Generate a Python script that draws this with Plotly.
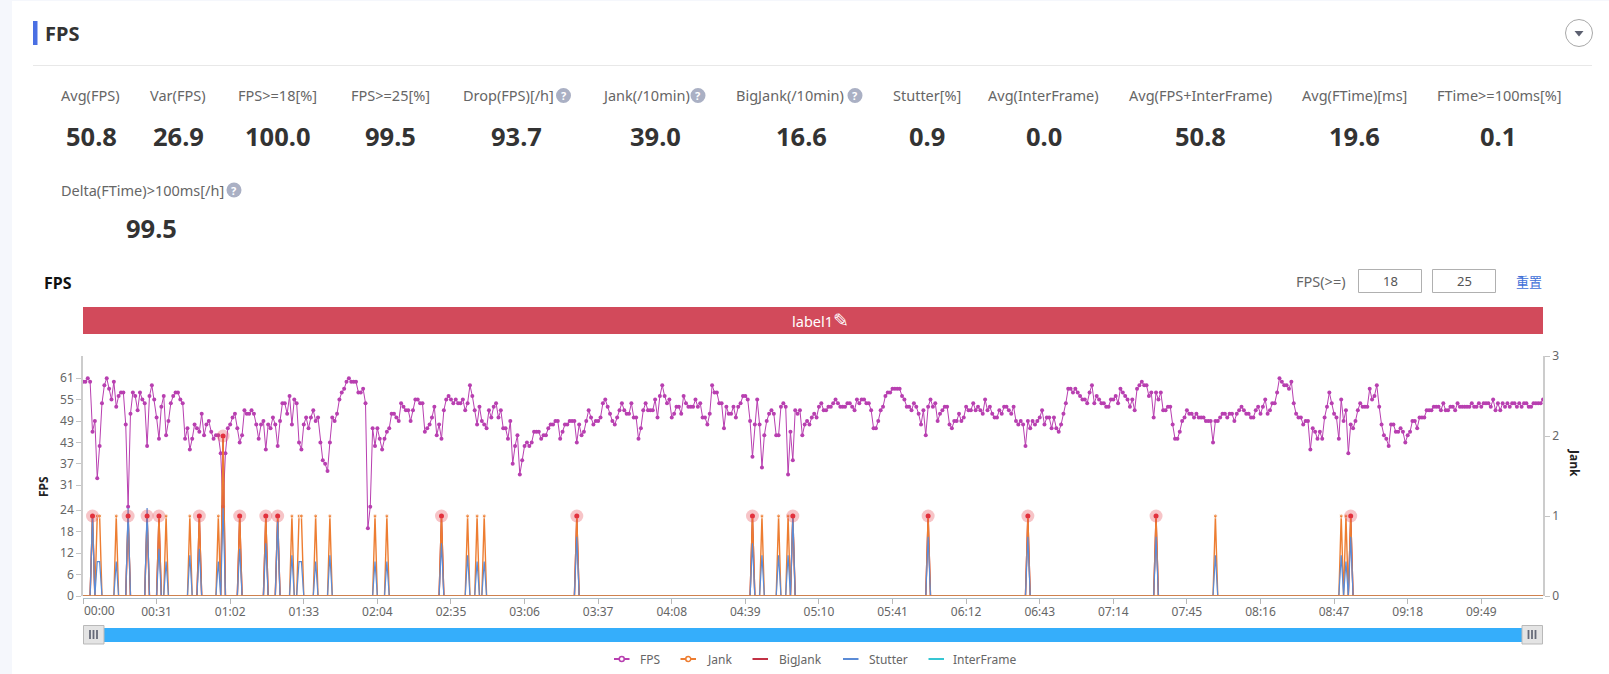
import plotly.graph_objects as go

W, H = 1609, 674
FONT = "Noto Sans"

fps_1 = [60,60,61,60,46,49,33,42,54,59,61,58,55,60,53,56,57,57,48,25,51,57,56,52,57,55,54,42,56,59,55,50,44,53,56,45,49,54,56,57,57,55,54,44,47,41,44,48,47,46,51,45,48,49,46,44,45,45,40,25,40,
         47,48,50,51,47,43,45,52,51,51,52,51,48,44,48,49,41,48,47,50,48,42,49,54,54,51,56,48,55,54,43,41,48,50,47,50,52,49,50,43,38,37,35,43,50,49,51,55,57,58,60,61,60,60,60,57,57,58,54,19,25,47,42,47,44,41,44,46,47,51,51,50,49]
fps_2 = [54,53,52,52,49,52,55,55,54,54,46,47,48,50,53,45,48,44,52,55,56,55,54,55,54,54,55,52,54,59,56,52,48,53,49,48,47,52,50,53,54,50,52,47,47,44,49,37,42,45,34,38,42,43,42,43,46,46,46,44,45,45,47,48,48,49,49,44,46,48,48,49,49,49,43,48,45,46,49,52,50,48,49,49,50,54,55,53,51,49,48,50,52,54,52,51,51,54,50,50,44,47,52,54,52,52,52,55,50,56,59,56,54,55,50,51,53,53,51,56,54,53,53,53,55,53,54,50,50,48,51,59,57,57,54,54,47,53,51,51,53,50,53,54,56,56,55,49,39,48,55,48,36,45,49,51,52,51,45,45,53,54,53,34,46,38,52,51]
fps_3 = [52,45,48,49,48,50,51,50,53,54,52,52,53,53,54,55,54,53,53,53,54,54,53,52,55,54,55,55,54,54,52,47,47,49,52,53,56,57,57,58,58,58,58,56,55,53,53,52,54,53,51,48,52,45,53,55,53,54,49,51,52,53,53,48,47,49,49,51,49,50,53,52,52,54,52,53,52,51,55,52,53,51,50,50,52,51,53,53,52,51,53,49,48,49,48,42,49,47,49,48,49,50,52,48,50,50,47,50,47,46,48,51,54,58,58,57,58,57,56,55,55,54,57,59,54,56,55,54,54,53,53,55,55,56,54,58,57,56,55,53,55,52,58,59,60,59,59,56,57,50,57,55,57,52,52,53,53,48,44,44,46,49,50,52,51,51,50,51]
fps_4 = [50,50,50,49,49,49,43,49,49,50,51,51,50,51,51,49,51,52,53,52,51,51,50,50,52,53,51,53,55,51,52,54,54,57,61,60,59,59,58,60,54,51,50,50,48,49,49,41,47,46,44,46,44,50,53,57,54,51,50,44,55,49,52,40,48,47,49,52,54,53,53,53,58,55,56,59,53,48,45,44,42,48,48,46,46,47,46,43,45,46,49,49,47,50,50,50,52,52,52,53,53,53,52,54,52,52,53,53,52,54,53,53,53,53,53,54,53,53,54,53,54,54,54,53,55,52,54,52,54,53,54,53,54,54,53,54,53,54,54,53,53,54,54,54,54,55]
fps_values = fps_1 + fps_2 + fps_3 + fps_4
seconds = list(range(len(fps_values)))

jank_seconds = [4,6,7,14,19,27,32,35,45,49,57,59,66,77,82,88,91,92,98,104,123,128,151,162,166,169,208,282,286,293,297,299,356,398,452,477,530,532,534]
stutter_peaks = [1.0,.43,.43,.43,1.1,1.1,.59,.43,.51,.59,.43,1.1,.59,.66,.93,.51,.43,.43,.43,.51,.43,.43,.66,.51,.43,.43,.74,.66,.51,.51,.51,1.0,.74,.74,.74,.51,.51,.43,.74]
double_jank_seconds = [59]
big_jank_seconds = [4,19,27,32,49,59,66,77,82,151,208,282,299,356,398,452,534]

jank_values = [0] * len(seconds)
stutter_values = [0] * len(seconds)
big_jank_values = [0] * len(seconds)
interframe_values = [0] * len(seconds)
for s, p in zip(jank_seconds, stutter_peaks):
    jank_values[s] = 2 if s in double_jank_seconds else 1
    stutter_values[s] = p
for s in big_jank_seconds:
    big_jank_values[s] = jank_values[s]

tick_seconds = list(range(0, 590, 31))
tick_labels = [f"{s//60:02d}:{s%60:02d}" for s in tick_seconds]
fps_ticks = [0, 6, 12, 18, 24, 31, 37, 43, 49, 55, 61]
jank_ticks = [0, 1, 2, 3]

metric_names = ["Avg(FPS)", "Var(FPS)", "FPS>=18[%]", "FPS>=25[%]", "Drop(FPS)[/h]", "Jank(/10min)", "BigJank(/10min)", "Stutter[%]", "Avg(InterFrame)", "Avg(FPS+InterFrame)", "Avg(FTime)[ms]", "FTime>=100ms[%]"]
metric_values = ["50.8", "26.9", "100.0", "99.5", "93.7", "39.0", "16.6", "0.9", "0.0", "50.8", "19.6", "0.1"]
metric_label_x = [90, 178, 277.5, 390, 508, 646, 790, 926.5, 1043.5, 1200, 1354, 1499]
metric_value_x = [91, 178, 277.5, 390, 516.5, 655.5, 801, 926.5, 1043.5, 1200, 1354, 1498]

C_FPS, C_JANK, C_BIG, C_STUT, C_INTER = "#b83fb0", "#ed7d31", "#c23145", "#5b8bd6", "#36c6d3"

def px(x): return x / W
def py(y): return 1 - y / H

fig = go.Figure()
fig.add_trace(go.Scatter(x=seconds, y=fps_values, yaxis="y", name="FPS", mode="lines+markers", cliponaxis=False,
                         line=dict(color=C_FPS, width=1), marker=dict(color=C_FPS, size=4)))
fig.add_trace(go.Scatter(x=seconds, y=big_jank_values, yaxis="y2", name="BigJank", mode="lines", cliponaxis=False,
                         line=dict(color=C_BIG, width=1.4)))
fig.add_trace(go.Scatter(x=seconds, y=jank_values, yaxis="y2", name="Jank", mode="lines+markers", cliponaxis=False,
                         line=dict(color=C_JANK, width=1.4),
                         marker=dict(color=C_JANK, size=[4 if v else 0 for v in jank_values])))
fig.add_trace(go.Scatter(x=seconds, y=interframe_values, yaxis="y2", name="InterFrame", mode="lines", cliponaxis=False,
                         line=dict(color=C_INTER, width=1)))
fig.add_trace(go.Scatter(x=seconds, y=stutter_values, yaxis="y2", name="Stutter", mode="lines", cliponaxis=False,
                         line=dict(color=C_STUT, width=1.2)))
fig.add_trace(go.Scatter(x=seconds, y=[0] * len(seconds), yaxis="y2", mode="lines", cliponaxis=False, showlegend=False,
                         line=dict(color=C_JANK, width=1.7)))
fig.add_trace(go.Scatter(x=big_jank_seconds, y=[jank_values[s] for s in big_jank_seconds], yaxis="y2", mode="markers",
                         showlegend=False, cliponaxis=False, marker=dict(color="rgba(228,60,70,0.3)", size=13)))
fig.add_trace(go.Scatter(x=big_jank_seconds, y=[jank_values[s] for s in big_jank_seconds], yaxis="y2", mode="markers",
                         showlegend=False, cliponaxis=False, marker=dict(color="#e2313d", size=5)))

shapes, ann = [], []

def rect(x0, y0, x1, y1, fill, line=None, lw=1, layer="below"):
    shapes.append(dict(type="rect", xref="paper", yref="paper", x0=px(x0), x1=px(x1), y0=py(y1), y1=py(y0),
                       fillcolor=fill, line=dict(color=line or "rgba(0,0,0,0)", width=lw if line else 0), layer=layer))

def circle(cx, cy, r, fill, line=None, lw=1, layer="below"):
    shapes.append(dict(type="circle", xref="paper", yref="paper", x0=px(cx - r), x1=px(cx + r), y0=py(cy + r), y1=py(cy - r),
                       fillcolor=fill, line=dict(color=line or "rgba(0,0,0,0)", width=lw if line else 0), layer=layer))

def hline(x0, x1, y, color, lw):
    shapes.append(dict(type="line", xref="paper", yref="paper", x0=px(x0), x1=px(x1), y0=py(y), y1=py(y),
                       line=dict(color=color, width=lw), layer="below"))

def text(x, y, s, size=14.5, color="#666666", bold=False, family=FONT, angle=0, anchor="center"):
    ann.append(dict(x=px(x), y=py(y), xref="paper", yref="paper", showarrow=False, xanchor=anchor, yanchor="middle",
                    text=f"<b>{s}</b>" if bold else s, textangle=angle, font=dict(family=family, size=size, color=color)))

# page and card
rect(12, 1, W, H, "#ffffff")
rect(33, 21, 37.5, 45, "#4a6fe3")
text(61.5, 33.5, "FPS", size=20, color="#333333", bold=True)
hline(33, 1592, 65.5, "#e8e8e8", 1)
circle(1579, 33, 13.5, "#ffffff", "#a8a8a8", 1)
shapes.append(dict(type="path", xref="paper", yref="paper", fillcolor="#5c6070", line=dict(width=0), layer="below",
                   path=f"M {px(1574.5)} {py(31)} L {px(1583.5)} {py(31)} L {px(1579)} {py(36.5)} Z"))

# metrics
for n, v, lx, vx in zip(metric_names, metric_values, metric_label_x, metric_value_x):
    text(lx, 95.5, n.replace(">", "&gt;"))
    text(vx, 135.5, v, size=25.5, color="#333333", bold=True)
text(142, 190, "Delta(FTime)&gt;100ms[/h]")
text(151, 228.5, "99.5", size=25.5, color="#333333", bold=True)
for ix, iy in [(563.5, 95.5), (698, 95.5), (855, 95.5), (234, 190)]:
    circle(ix, iy, 7.5, "#aab0c4")
    text(ix, iy, "?", size=11, color="#ffffff", bold=True)

# chart header
text(57.5, 283, "FPS", size=16, color="#111111", bold=True)
text(1321, 281, "FPS(&gt;=)")
rect(1358.5, 269.5, 1421.5, 292.5, "#ffffff", "#b0b0b0", 1)
rect(1432.5, 269.5, 1495.5, 292.5, "#ffffff", "#b0b0b0", 1)
text(1390, 281, "18", size=13, color="#555555")
text(1464, 281, "25", size=13, color="#555555")
text(1529, 281, "重置", size=13, color="#3f6fd8", family="Noto Sans CJK SC")
rect(83, 307, 1543, 334, "#d24a5b")
text(821, 320, 'label1<span style="font-size:19px">✎</span>', size=14.5, color="#ffffff")

# zoom slider
rect(104, 628, 1522, 642, "#35aefb")
for hx in (83.5, 1522):
    rect(hx, 625.5, hx + 20.5, 644, "#e4e4e4", "#b9b9b9", 1)
    for dx in (6.5, 10, 13.5):
        rect(hx + dx - 0.9, 630, hx + dx + 0.9, 639, "#666a78")

# legend
legend_items = [("FPS", C_FPS, 614, 650, True), ("Jank", C_JANK, 680.5, 719, True), ("BigJank", C_BIG, 752.5, 800, False),
                ("Stutter", C_STUT, 843, 888, False), ("InterFrame", C_INTER, 928.5, 985, False)]
for name, col, lx, tx, mark in legend_items:
    hline(lx, lx + 15.5, 659, col, 2)
    if mark:
        circle(lx + 7.75, 659, 2.5, "#ffffff", col, 1.5)
    text(tx, 659, name, size=12)

# axis captions and the first tick label, which sits inside the axis start
text(43, 487, "FPS", size=12, color="#222222", bold=True, angle=-90)
text(1575, 463, "Jank", size=12, color="#222222", bold=True, angle=90)
text(99, 610.5, tick_labels[0], size=12)

fig.update_layout(
    width=W, height=H, margin=dict(l=0, r=0, t=0, b=0, pad=0), autosize=False,
    paper_bgcolor="#f5f7fc", plot_bgcolor="rgba(0,0,0,0)", showlegend=False,
    shapes=shapes, annotations=ann, hovermode=False,
    font=dict(family=FONT, size=12, color="#666666"),
    xaxis=dict(domain=[px(83), px(1543)], range=[0, 615], anchor="free", position=py(598), tickmode="array",
               tickvals=tick_seconds, ticktext=[""] + tick_labels[1:], ticks="outside", ticklen=5, tickcolor="#b8b8b8",
               automargin=False, ticklabelstandoff=-2,
               showgrid=False, zeroline=False, showline=True, linecolor="#a9bdc9", linewidth=1,
               tickfont=dict(family=FONT, size=12, color="#666666")),
    yaxis=dict(domain=[py(596), py(356)], range=[0, 67.2], tickmode="array", tickvals=fps_ticks, ticks="outside", automargin=False,
               ticklen=5, tickcolor="#c4c4c4", showgrid=False, zeroline=False, showline=True, linecolor="#cccccc", linewidth=1.5,
               tickfont=dict(family=FONT, size=12, color="#666666")),
    yaxis2=dict(domain=[py(596), py(356)], range=[0, 3], overlaying="y", side="right", anchor="x", tickmode="array", automargin=False,
                tickvals=jank_ticks, ticks="outside", ticklen=5, tickcolor="#c4c4c4", showgrid=False, zeroline=False,
                showline=True, linecolor="#cccccc", linewidth=1.5, tickfont=dict(family=FONT, size=12, color="#666666")),
)

fig.write_html("out.html", config={"displayModeBar": False},
               post_script="document.body.style.margin='0';document.body.style.overflow='hidden';")
